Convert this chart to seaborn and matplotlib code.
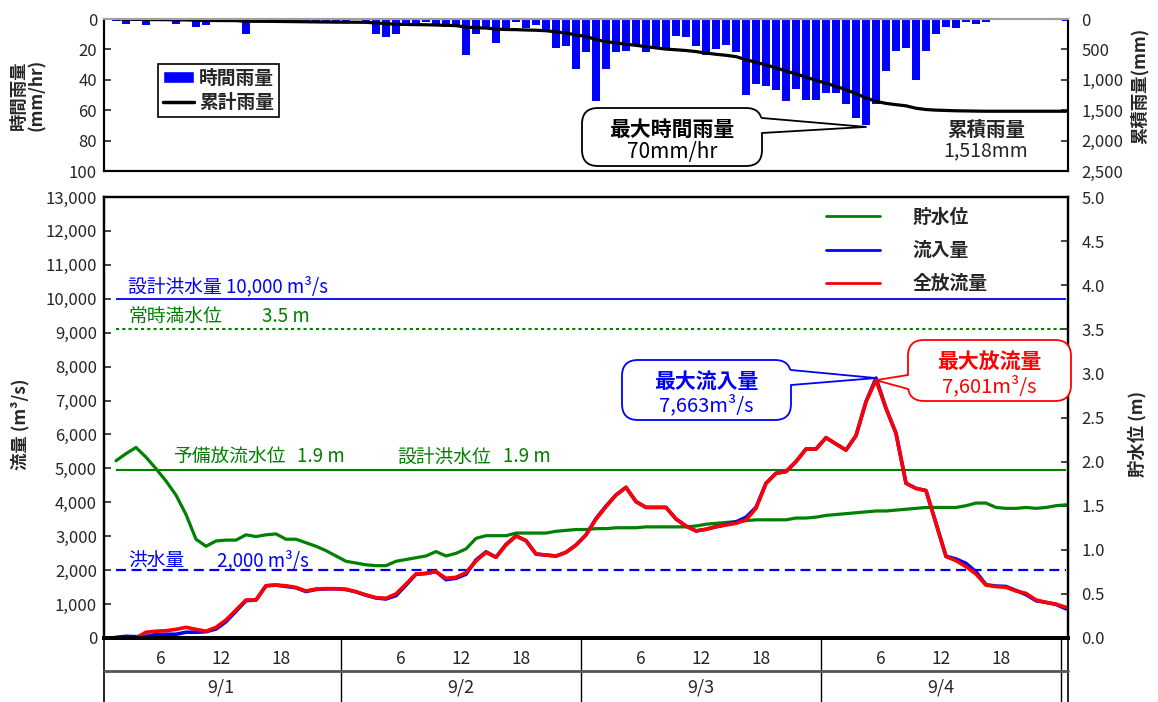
import numpy as np
import pandas as pd
import matplotlib
matplotlib.use("Agg")
import matplotlib.pyplot as plt
import seaborn as sns
from matplotlib.patches import FancyBboxPatch, Polygon, Patch
from matplotlib.lines import Line2D
from matplotlib.ticker import FuncFormatter

# hourly records, 9/1 1:00 -> 9/5 0:00
hours = np.arange(1, 97)

rain = [1, 3, 1, 4, 1, 1, 3, 1, 5, 4,
        1, 1, 1, 10, 1, 0, 2, 2, 2, 2,
        2, 2, 2, 1, 0, 2, 10, 12, 10, 3,
        3, 2, 4, 5, 5, 24, 10, 6, 16, 8,
        2, 6, 4, 8, 19, 18, 33, 22, 54, 33,
        22, 21, 18, 22, 20, 20, 11, 12, 18, 24,
        20, 17, 22, 50, 43, 44, 47, 54, 46, 53,
        53, 49, 49, 56, 65, 70, 56, 34, 21, 19,
        40, 21, 10, 5, 6, 2, 3, 2, 0, 0,
        0, 0, 0, 0, 0, 1]

inflow = [20, 50, 40, 50, 100, 110, 110, 170, 170, 185,
          265, 480, 790, 1100, 1120, 1540, 1560, 1520, 1480, 1370,
          1430, 1450, 1450, 1430, 1360, 1260, 1180, 1150, 1250, 1560,
          1880, 1900, 1960, 1720, 1760, 1880, 2300, 2540, 2380, 2760,
          3010, 2870, 2475, 2445, 2415, 2525, 2740, 3040, 3520, 3890,
          4215, 4440, 4020, 3850, 3850, 3850, 3510, 3300, 3155, 3205,
          3280, 3340, 3420, 3560, 3850, 4560, 4855, 4905, 5200, 5570,
          5570, 5905, 5720, 5540, 5965, 6965, 7663, 6770, 6035, 4560,
          4410, 4345, 3380, 2410, 2330, 2200, 1950, 1570, 1530, 1520,
          1400, 1280, 1100, 1050, 990, 860]

outflow = [0, 0, 0, 170, 200, 215, 255, 315, 255, 200,
           315, 530, 825, 1120, 1120, 1540, 1560, 1540, 1490, 1385,
           1445, 1455, 1455, 1435, 1365, 1270, 1190, 1170, 1300, 1590,
           1890, 1905, 1955, 1760, 1790, 1925, 2270, 2525, 2380, 2740,
           3005, 2870, 2475, 2445, 2415, 2525, 2740, 3040, 3500, 3870,
           4215, 4440, 4020, 3850, 3850, 3850, 3510, 3300, 3155, 3205,
           3280, 3330, 3380, 3480, 3820, 4560, 4855, 4905, 5200, 5570,
           5570, 5905, 5720, 5540, 5965, 6965, 7601, 6770, 6035, 4560,
           4410, 4345, 3380, 2400, 2280, 2105, 1885, 1560, 1515, 1495,
           1385, 1315, 1120, 1050, 1000, 905]

level = [2.01, 2.09, 2.16, 2.05, 1.92, 1.78, 1.62, 1.40, 1.12, 1.04,
         1.10, 1.11, 1.11, 1.17, 1.15, 1.17, 1.18, 1.12, 1.12, 1.08,
         1.04, 0.99, 0.93, 0.87, 0.85, 0.83, 0.82, 0.82, 0.87, 0.89,
         0.91, 0.93, 0.98, 0.93, 0.96, 1.01, 1.13, 1.16, 1.16, 1.16,
         1.19, 1.19, 1.19, 1.19, 1.21, 1.22, 1.23, 1.23, 1.24, 1.24,
         1.25, 1.25, 1.25, 1.26, 1.26, 1.26, 1.26, 1.26, 1.27, 1.29,
         1.30, 1.31, 1.32, 1.33, 1.34, 1.34, 1.34, 1.34, 1.36, 1.36,
         1.37, 1.39, 1.40, 1.41, 1.42, 1.43, 1.44, 1.44, 1.45, 1.46,
         1.47, 1.48, 1.48, 1.48, 1.48, 1.50, 1.53, 1.53, 1.48, 1.47,
         1.47, 1.48, 1.47, 1.48, 1.50, 1.51]

days = ["9/1", "9/2", "9/3", "9/4"]
hour_labels = ["6", "12", "18"]

design_flood = 10000   # m3/s
flood_flow = 2000      # m3/s
normal_level = 3.5     # m
standby_level = 1.9    # m

green = "#008000"
blue = "#0000FF"
red = "#FF0000"

sns.set_style("white")
plt.rcParams["font.family"] = ["Noto Sans CJK JP", "DejaVu Sans"]
plt.rcParams["axes.unicode_minus"] = False

W, H = 1158, 702
fig = plt.figure(figsize=(W / 100, H / 100), dpi=100)


def fx(px):
    return px / W


def fy(py):
    return 1 - py / H


ax_t = fig.add_axes([fx(104), fy(171), fx(1068) - fx(104), fy(19) - fy(171)])
ax_b = fig.add_axes([fx(104), fy(638), fx(1068) - fx(104), fy(197) - fy(638)])
xlim = (-0.2, 96.2)

# ---------------- top panel: rainfall ----------------
sns.barplot(x=hours, y=rain, native_scale=True, color=blue, saturation=1,
            width=0.82, errorbar=None, linewidth=0, ax=ax_t)
ax_t2 = ax_t.twinx()
sns.lineplot(x=hours, y=np.cumsum(rain), color="black", linewidth=2.3, ax=ax_t2)

ax_t.set_xlim(*xlim)
ax_t.set_ylim(100, 0)
ax_t.set_yticks(range(0, 101, 20))
ax_t.set_xticks([])
ax_t.set_xlabel("")
ax_t2.set_ylim(2500, 0)
ax_t2.set_yticks(range(0, 2501, 500))
ax_t2.yaxis.set_major_formatter(FuncFormatter(lambda v, p: f"{v:,.0f}"))

ax_t.tick_params(axis="y", direction="in", length=5, width=1.2, labelsize=12, pad=5)
ax_t2.tick_params(axis="y", direction="in", length=5, width=1.2, labelsize=12, pad=9.5)

ax_t.set_ylabel("時間雨量\n(mm/hr)", fontsize=12.5, fontweight="bold", linespacing=1.0)
ax_t.yaxis.set_label_coords(-0.060, 0.5)
ax_t2.set_ylabel("累積雨量(mm)", fontsize=12.5, fontweight="bold")
ax_t2.yaxis.set_label_coords(1.065, 0.56)

for a in (ax_t, ax_t2):
    for s in a.spines.values():
        s.set_color("black")
        s.set_linewidth(1.5)
    a.spines["top"].set_color("#a0a0a0")

leg_t = ax_t2.legend(
    handles=[Patch(facecolor=blue, label="時間雨量"),
             Line2D([], [], color="black", lw=2.5, label="累計雨量")],
    loc="upper left", bbox_to_anchor=((158 - 104) / 964, 1 - (64 - 19) / 152),
    frameon=True, fancybox=False, edgecolor="black", framealpha=1,
    prop={"size": 13.5, "weight": "bold"}, handlelength=1.65, handleheight=0.55,
    handletextpad=0.3, labelspacing=0.3, borderpad=0.25, borderaxespad=0)
leg_t.get_frame().set_linewidth(1.2)

# ---------------- bottom panel: flow and water level ----------------
ax_b2 = ax_b.twinx()
ax_b.set_zorder(ax_b2.get_zorder() + 1)
ax_b.patch.set_visible(False)

ax_b2.hlines(standby_level, hours[0], hours[-1], color=green, lw=1.5)
ax_b2.hlines(normal_level, hours[0], hours[-1], color=green, lw=1.5,
             linestyles=[(0, (1.5, 1.5))])
sns.lineplot(x=hours, y=level, color=green, linewidth=2.3, ax=ax_b2)

ax_b.hlines(design_flood, hours[0], hours[-1], color=blue, lw=1.3)
ax_b.hlines(flood_flow, hours[0], hours[-1], color=blue, lw=1.6,
            linestyles=[(0, (4.5, 2.5))])
sns.lineplot(x=hours, y=inflow, color=blue, linewidth=2.6, ax=ax_b)
sns.lineplot(x=hours, y=outflow, color=red, linewidth=2.6, ax=ax_b)

ax_b.set_xlim(*xlim)
ax_b.set_ylim(0, 13000)
ax_b2.set_ylim(0, 5)
ax_b.set_yticks(range(0, 13001, 1000))
ax_b.yaxis.set_major_formatter(FuncFormatter(lambda v, p: f"{v:,.0f}"))
ax_b2.set_yticks(np.arange(0, 5.01, 0.5))
ax_b2.yaxis.set_major_formatter(FuncFormatter(lambda v, p: f"{v:.1f}"))

tick_pos = [24 * d + int(h) - 0.5 for d in range(len(days)) for h in hour_labels]
ax_b.set_xticks(tick_pos)
ax_b.set_xticklabels(hour_labels * len(days))
ax_b.set_xlabel("")
ax_b2.set_xlabel("")

ax_b.tick_params(axis="y", direction="in", length=5, width=1.2, labelsize=12, pad=5)
ax_b2.tick_params(axis="y", direction="in", length=5, width=1.2, labelsize=12, pad=9.5)
ax_b.tick_params(axis="x", direction="out", length=6.5, width=1, labelsize=12.5, pad=2.5)

ax_b.set_ylabel("流量 (m³/s)", fontsize=12.5, fontweight="bold")
ax_b.yaxis.set_label_coords(-0.077, 0.485)
ax_b2.set_ylabel("貯水位 (m)", fontsize=12.5, fontweight="bold")
ax_b2.yaxis.set_label_coords(1.062, 0.463)

for a in (ax_b, ax_b2):
    for s in a.spines.values():
        s.set_color("black")
        s.set_linewidth(1.6)
    a.spines["bottom"].set_linewidth(2.8)

# two-level date axis below the plot
xt = ax_b.get_xaxis_transform()
y_sep = (638 - 671) / 441
y_end = (638 - 703) / 441
for d in range(len(days)):
    b = 24 * (d + 1) - 0.5
    ax_b.plot([b, b], [0, y_end], transform=xt, color="black", lw=1, clip_on=False)
    ax_b.text(24 * d + 11.5, (638 - 687) / 441, days[d], transform=xt,
              ha="center", va="center", fontsize=13)
for e in (0, 1):
    ax_b.plot([e, e], [0, y_end], transform=ax_b.transAxes, color="black", lw=1.2, clip_on=False)
ax_b.plot([0, 1], [y_sep, y_sep], transform=ax_b.transAxes, color="#555555", lw=2, clip_on=False)

ax_b.legend(
    handles=[Line2D([], [], color=green, lw=2, label="貯水位"),
             Line2D([], [], color=blue, lw=2, label="流入量"),
             Line2D([], [], color=red, lw=2, label="全放流量")],
    loc="upper left", bbox_to_anchor=((826 - 104) / 964, 1 - (208 - 197) / 441),
    frameon=False, prop={"size": 13.5, "weight": "bold"}, handlelength=2.9,
    handletextpad=1.7, labelspacing=0.75, borderpad=0, borderaxespad=0)

# reference level labels
def label(px, py, text, color, size=13.5, weight="normal"):
    fig.text(fx(px), fy(py), text, color=color, fontsize=size, fontweight=weight,
             ha="left", va="center")


label(128, 287, "設計洪水量 10,000 m³/s", blue)
label(128, 317, "常時満水位", green)
label(262, 317, "3.5 m", green)
label(173, 457, "予備放流水位", green)
label(297, 457, "1.9 m", green)
label(397, 457, "設計洪水位", green)
label(503, 457, "1.9 m", green)
label(128, 561, "洪水量", blue)
label(217, 561, "2,000 m³/s", blue)

# callouts
tr = fig.dpi_scale_trans


def to_in(px, py):
    return px / 100, (H - py) / 100


def callout(ax, tip, box, base, lines, color):
    l, t, r, b = box
    x0, y0 = to_in(l, b)
    x1, y1 = to_in(r, t)
    fig.add_artist(FancyBboxPatch((x0, y0), x1 - x0, y1 - y0,
                                  boxstyle="round,pad=0,rounding_size=0.16", transform=tr,
                                  facecolor="white", edgecolor=color, linewidth=1.3, zorder=10))
    tx, ty = (ax.transData + tr.inverted()).transform(tip)
    bx, ya, yb = base
    pa, pb = to_in(bx, ya), to_in(bx, yb)
    inner = 0.02 if bx == l else -0.02
    fig.add_artist(Polygon([(pa[0] + inner, pa[1]), (tx, ty), (pb[0] + inner, pb[1])],
                           closed=True, transform=tr, facecolor="white", edgecolor="none", zorder=11))
    fig.add_artist(Line2D([pa[0], tx, pb[0]], [pa[1], ty, pb[1]], transform=tr,
                          color=color, linewidth=1.3, zorder=12))
    for text, py, size, weight in lines:
        fig.text(fx((l + r) / 2), fy(py), text, color=color, fontsize=size,
                 fontweight=weight, ha="center", va="center", zorder=13)


peak_rain = int(np.argmax(rain))
callout(ax_t, (hours[peak_rain], rain[peak_rain] + 1), (582, 108, 762, 166), (762, 118, 133),
        [("最大時間雨量", 129, 15, "bold"), ("70mm/hr", 152, 15, "normal")], "black")

peak_in = int(np.argmax(inflow))
callout(ax_b, (hours[peak_in], inflow[peak_in]), (622, 360, 791, 420), (791, 370, 385),
        [("最大流入量", 381, 15, "bold"), ("7,663m³/s", 405, 14.5, "normal")], blue)

peak_out = int(np.argmax(outflow))
callout(ax_b, (hours[peak_out], outflow[peak_out]), (908, 340, 1071, 401), (908, 375, 389),
        [("最大放流量", 361, 15, "bold"), ("7,601m³/s", 386, 14.5, "normal")], red)

fig.text(fx(986), fy(130), "累積雨量", fontsize=14, fontweight="bold", ha="center", va="center")
fig.text(fx(986), fy(151), "1,518mm", fontsize=14, ha="center", va="center")

fig.savefig("out.png", dpi=100)
